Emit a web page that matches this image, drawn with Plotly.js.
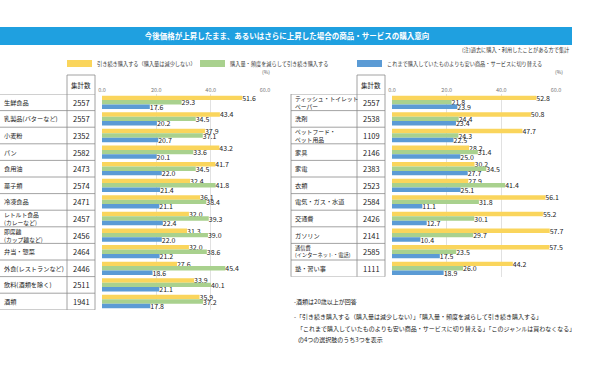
<!DOCTYPE html>
<html><head><meta charset="utf-8">
<script src="https://cdn.plot.ly/plotly-3.0.1.min.js"></script>
<style>html,body{margin:0;padding:0;background:#fff}#chart{width:600px;height:375px}</style>
</head><body><div id="chart"></div>
<script>
const leftCats = ['生鮮食品','乳製品(バターなど)','小麦粉','パン','食用油','菓子類','冷凍食品','レトルト食品<br>(カレーなど)','即席麺<br>(カップ麺など)','弁当・惣菜','外食(レストランなど)','飲料(酒類を除く)','酒類'];
const leftCounts = [2557,2557,2352,2582,2473,2574,2471,2457,2456,2464,2446,2511,1941];
const leftKeep   = [51.6,43.4,37.9,43.2,41.7,32.4,36.1,32.0,31.3,32.0,27.6,33.9,35.9];
const leftReduce = [29.3,34.5,37.1,33.6,34.5,41.8,38.4,39.3,39.0,38.6,45.4,40.1,37.2];
const leftSwitch = [17.6,20.2,20.7,20.1,22.0,21.4,21.1,22.4,22.0,21.2,18.6,21.1,17.8];

const rightCats = ['ティッシュ・トイレット<br>ペーパー','洗剤','ペットフード・<br>ペット用品','家具','家電','衣類','電気・ガス・水道','交通費','ガソリン','通信費<br>(インターネット・電話)','塾・習い事'];
const rightCounts = [2557,2538,1109,2146,2383,2523,2584,2426,2141,2585,1111];
const rightKeep   = [52.8,50.8,47.7,28.2,30.2,27.9,56.1,55.2,57.7,57.5,44.2];
const rightReduce = [21.8,24.4,24.3,31.4,34.5,41.4,31.8,30.1,29.7,23.5,26.0];
const rightSwitch = [23.9,23.4,22.5,25.0,27.7,25.1,11.1,12.7,10.4,17.5,18.9];

const seriesNames = ['引き続き購入する（購入量は減少しない）','購入量・頻度を減らして引き続き購入する','これまで購入していたものよりも安い商品・サービスに切り替える'];
const xTicks = [0,20,40,60];
const titleText = '今後価格が上昇したまま、あるいはさらに上昇した場合の商品・サービスの購入意向';
const noteText = '(注)過去に購入・利用したことがある方で集計';
const footnotes = ['-酒類は20歳以上が回答','-「引き続き購入する（購入量は減少しない）」「購入量・頻度を減らして引き続き購入する」','「これまで購入していたものよりも安い商品・サービスに切り替える」「このジャンルは買わなくなる」','の4つの選択肢のうち3つを表示'];

const COLORS = ['#FAD55C','#A9D18E','#5B9BD5'];
const FONT = '"Noto Sans CJK JP", "Noto Sans", sans-serif';
const W = 600, H = 375;
const px = x => x / W;
const py = y => 1 - y / H;
const ROW = 16.6, TOP = 94;

function barTrace(cats, vals, ci, xa, ya) {
  return {
    type: 'bar', orientation: 'h', y: cats, x: vals, xaxis: xa, yaxis: ya,
    name: seriesNames[ci], marker: {color: COLORS[ci]},
    text: vals.map(v => v.toFixed(1)), textposition: 'outside',
    textfont: {size: 7, color: '#222', family: FONT},
    constraintext: 'none', cliponaxis: false, hoverinfo: 'skip', showlegend: false
  };
}

const data = [
  barTrace(leftCats, leftKeep, 0, 'x', 'y'),
  barTrace(leftCats, leftReduce, 1, 'x', 'y'),
  barTrace(leftCats, leftSwitch, 2, 'x', 'y'),
  barTrace(rightCats, rightKeep, 0, 'x2', 'y2'),
  barTrace(rightCats, rightReduce, 1, 'x2', 'y2'),
  barTrace(rightCats, rightSwitch, 2, 'x2', 'y2')
];

const shapes = [];
const annotations = [];
const LINE = '#8c8c8c';

// banner
shapes.push({type:'rect', xref:'paper', yref:'paper', x0:px(0), x1:px(572), y0:py(45), y1:py(27), fillcolor:'#1FA0E0', line:{width:0}, layer:'below'});

function table(cats, counts, yref, xL, xSep, xR, nameX, countX) {
  const n = cats.length;
  const bottom = TOP + n * ROW;
  for (let k = 0; k <= n; k++) {
    shapes.push({type:'line', xref:'paper', yref:yref, x0:px(xL), x1:px(xR), y0:k-0.5, y1:k-0.5, line:{color:LINE, width:0.8}});
  }
  shapes.push({type:'line', xref:'paper', yref:'paper', x0:px(xSep), x1:px(xSep), y0:py(75), y1:py(bottom), line:{color:LINE, width:0.8}});
  shapes.push({type:'line', xref:'paper', yref:'paper', x0:px(xR), x1:px(xR), y0:py(75), y1:py(bottom), line:{color:LINE, width:0.8}});
  shapes.push({type:'line', xref:'paper', yref:'paper', x0:px(xSep), x1:px(xR), y0:py(75), y1:py(75), line:{color:LINE, width:0.8}});
  if (xL > 5) shapes.push({type:'line', xref:'paper', yref:'paper', x0:px(xL), x1:px(xL), y0:py(TOP), y1:py(bottom), line:{color:LINE, width:0.8}});
  annotations.push({xref:'paper', yref:'paper', x:px(countX), y:py(85), text:'集計数', showarrow:false, xanchor:'center', yanchor:'middle', font:{size:6.5, color:'#222', family:FONT}});
  cats.forEach((c, i) => {
    const maxLen = Math.max(...c.split('<br>').map(s => s.length));
    const fs = c.includes('<br>') ? (maxLen > 11 ? 5.2 : 5.8) : 6.2;
    annotations.push({xref:'paper', yref:yref, x:px(nameX), y:i, text:c, showarrow:false, xanchor:'left', yanchor:'middle', align:'left', font:{size: fs, color:'#222', family:FONT}});
    annotations.push({xref:'paper', yref:yref, x:px(countX), y:i, text:String(counts[i]), showarrow:false, xanchor:'center', yanchor:'middle', font:{size:7.5, color:'#222', family:FONT}});
  });
}
table(leftCats, leftCounts, 'y', 0, 67, 95, 2, 81);
table(rightCats, rightCounts, 'y2', 291, 357, 385, 293, 371);

// legend
const legX = [67, 200, 357];
legX.forEach((x, i) => {
  shapes.push({type:'rect', xref:'paper', yref:'paper', x0:px(x), x1:px(x+25), y0:py(67), y1:py(60), fillcolor:COLORS[i], line:{width:0}});
  annotations.push({xref:'paper', yref:'paper', x:px(x+28), y:py(63.5), text:seriesNames[i], showarrow:false, xanchor:'left', yanchor:'middle', font:{size:5.2, color:'#333', family:FONT}});
});
annotations.push({xref:'paper', yref:'paper', x:px(572), y:py(50), text:noteText, showarrow:false, xanchor:'right', yanchor:'middle', font:{size:5.2, color:'#333', family:FONT}});
annotations.push({xref:'paper', yref:'paper', x:px(266), y:py(71.5), text:'(%)', showarrow:false, xanchor:'center', yanchor:'middle', font:{size:5, color:'#555', family:FONT}});
annotations.push({xref:'paper', yref:'paper', x:px(559), y:py(72), text:'(%)', showarrow:false, xanchor:'center', yanchor:'middle', font:{size:5, color:'#555', family:FONT}});

const fnY = [301, 316, 328, 339];
const fnX = [292, 292, 295, 296];
footnotes.forEach((t, i) => {
  annotations.push({xref:'paper', yref:'paper', x:px(fnX[i]), y:py(fnY[i]), text:t, showarrow:false, xanchor:'left', yanchor:'middle', font:{size:6, color:'#222', family:FONT}});
});

function xaxisDef(d0, d1, anchor) {
  return {domain:[px(d0), px(d1)], range:[0, 60], anchor:anchor, side:'top', tickvals:xTicks, ticktext:xTicks.map(v => v.toFixed(1)),
    tickfont:{size:5.5, color:'#777', family:FONT}, ticks:'', ticklen:0, showgrid:true, gridcolor:'#d9d9d9', gridwidth:0.8, zeroline:false, showline:false, fixedrange:true};
}
function yaxisDef(n, anchor) {
  return {domain:[py(TOP + n*ROW), py(TOP)], range:[n-0.5, -0.5], type:'category', anchor:anchor, showticklabels:false, showgrid:false, zeroline:false, showline:false, ticks:'', fixedrange:true};
}

const layout = {
  width: W, height: H, margin:{l:0, r:0, t:0, b:0},
  paper_bgcolor:'#fff', plot_bgcolor:'rgba(0,0,0,0)',
  font:{family:FONT},
  title:{text:'<b>' + titleText + '</b>', x:px(287), y:py(36), xanchor:'center', yanchor:'middle', xref:'paper', yref:'paper', font:{size:7.5, color:'#fff', family:FONT}},
  barmode:'group', bargap:0.2, bargroupgap:0,
  xaxis: xaxisDef(102, 265, 'y'),
  yaxis: yaxisDef(leftCats.length, 'x'),
  xaxis2: xaxisDef(392, 556, 'y2'),
  yaxis2: yaxisDef(rightCats.length, 'x2'),
  shapes: shapes, annotations: annotations, showlegend:false
};
Plotly.newPlot('chart', data, layout, {staticPlot:true, displayModeBar:false});
</script></body></html>
